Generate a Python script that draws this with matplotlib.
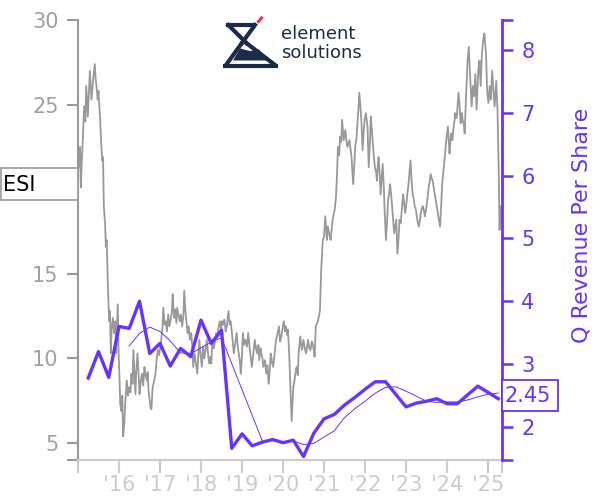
import matplotlib
matplotlib.use("Agg")
import matplotlib.pyplot as plt
from matplotlib.patches import Polygon, Rectangle

# ---------------- data ----------------
price_dates = [
    2015.00, 2015.03, 2015.05, 2015.07, 2015.09, 2015.11, 2015.15, 2015.18, 2015.20, 2015.24,
    2015.27, 2015.29, 2015.33, 2015.37, 2015.41, 2015.43, 2015.45, 2015.48, 2015.50, 2015.54,
    2015.56, 2015.59, 2015.61, 2015.63, 2015.66, 2015.68, 2015.70, 2015.73, 2015.76, 2015.78,
    2015.80, 2015.82, 2015.85, 2015.88, 2015.91, 2015.93, 2015.95, 2015.97, 2015.99, 2016.01,
    2016.03, 2016.06, 2016.08, 2016.10, 2016.13, 2016.15, 2016.17, 2016.19, 2016.22, 2016.25,
    2016.28, 2016.30, 2016.33, 2016.35, 2016.38, 2016.40, 2016.42, 2016.45, 2016.48, 2016.50,
    2016.53, 2016.56, 2016.59, 2016.62, 2016.65, 2016.68, 2016.70, 2016.72, 2016.75, 2016.77,
    2016.79, 2016.82, 2016.85, 2016.89, 2016.92, 2016.95, 2016.98, 2017.03, 2017.06, 2017.08,
    2017.11, 2017.14, 2017.17, 2017.20, 2017.23, 2017.26, 2017.29, 2017.31, 2017.34, 2017.37,
    2017.40, 2017.42, 2017.45, 2017.48, 2017.51, 2017.54, 2017.57, 2017.59, 2017.62, 2017.65,
    2017.67, 2017.70, 2017.73, 2017.76, 2017.79, 2017.81, 2017.84, 2017.87, 2017.91, 2017.93,
    2017.96, 2017.99, 2018.02, 2018.05, 2018.08, 2018.11, 2018.14, 2018.17, 2018.20, 2018.23,
    2018.25, 2018.28, 2018.31, 2018.34, 2018.37, 2018.40, 2018.43, 2018.46, 2018.49, 2018.51,
    2018.54, 2018.57, 2018.60, 2018.63, 2018.67, 2018.70, 2018.72, 2018.75, 2018.77, 2018.80,
    2018.84, 2018.87, 2018.90, 2018.92, 2018.95, 2018.97, 2019.00, 2019.02, 2019.05, 2019.08,
    2019.12, 2019.15, 2019.18, 2019.20, 2019.24, 2019.27, 2019.31, 2019.34, 2019.37, 2019.40,
    2019.42, 2019.45, 2019.47, 2019.50, 2019.52, 2019.56, 2019.59, 2019.62, 2019.65, 2019.68,
    2019.70, 2019.73, 2019.76, 2019.80, 2019.83, 2019.86, 2019.90, 2019.93, 2019.96, 2019.99,
    2020.02, 2020.05, 2020.07, 2020.10, 2020.12, 2020.15, 2020.17, 2020.19, 2020.21, 2020.23,
    2020.25, 2020.28, 2020.30, 2020.33, 2020.36, 2020.38, 2020.42, 2020.46, 2020.50, 2020.53,
    2020.56, 2020.59, 2020.61, 2020.64, 2020.67, 2020.70, 2020.72, 2020.75, 2020.77, 2020.80,
    2020.85, 2020.90, 2020.93, 2020.97, 2021.00, 2021.03, 2021.07, 2021.09, 2021.11, 2021.14,
    2021.16, 2021.19, 2021.21, 2021.26, 2021.29, 2021.31, 2021.34, 2021.37, 2021.39, 2021.42,
    2021.44, 2021.48, 2021.52, 2021.55, 2021.57, 2021.62, 2021.65, 2021.67, 2021.71, 2021.74,
    2021.76, 2021.79, 2021.81, 2021.84, 2021.86, 2021.89, 2021.91, 2021.94, 2021.97, 2021.99,
    2022.02, 2022.06, 2022.09, 2022.12, 2022.14, 2022.17, 2022.19, 2022.22, 2022.24, 2022.27,
    2022.29, 2022.31, 2022.33, 2022.36, 2022.38, 2022.41, 2022.43, 2022.46, 2022.48, 2022.51,
    2022.54, 2022.56, 2022.59, 2022.61, 2022.64, 2022.66, 2022.69, 2022.71, 2022.74, 2022.76,
    2022.79, 2022.82, 2022.84, 2022.87, 2022.89, 2022.91, 2022.93, 2022.96, 2022.98, 2023.01,
    2023.03, 2023.06, 2023.08, 2023.11, 2023.13, 2023.16, 2023.19, 2023.21, 2023.24, 2023.26,
    2023.29, 2023.31, 2023.34, 2023.36, 2023.39, 2023.41, 2023.44, 2023.46, 2023.48, 2023.50,
    2023.53, 2023.55, 2023.58, 2023.60, 2023.63, 2023.65, 2023.68, 2023.70, 2023.73, 2023.75,
    2023.78, 2023.80, 2023.83, 2023.86, 2023.88, 2023.92, 2023.95, 2023.98, 2024.02, 2024.06,
    2024.08, 2024.10, 2024.13, 2024.15, 2024.18, 2024.20, 2024.23, 2024.25, 2024.28, 2024.31,
    2024.33, 2024.36, 2024.38, 2024.41, 2024.43, 2024.46, 2024.50, 2024.53, 2024.56, 2024.60,
    2024.63, 2024.66, 2024.69, 2024.72, 2024.76, 2024.79, 2024.82, 2024.85, 2024.88, 2024.91,
    2024.95, 2024.98, 2025.01, 2025.04, 2025.07, 2025.10, 2025.13, 2025.16, 2025.20, 2025.23,
    2025.26, 2025.28, 2025.30, 2025.32,
]
price_values = [
    22.0, 21.3, 22.5, 20.1, 21.5, 22.5, 24.9, 24.0, 26.1, 24.3,
    26.0, 27.0, 25.3, 26.5, 27.4, 26.5, 26.1, 25.3, 25.8, 24.1,
    23.0, 21.7, 21.9, 19.0, 18.0, 16.6, 17.0, 14.2, 12.2, 12.8,
    10.3, 11.7, 12.4, 11.5, 12.2, 10.3, 11.8, 13.2, 10.3, 9.0,
    7.3, 6.9, 7.8, 5.4, 6.2, 7.3, 8.0, 8.7, 7.8, 8.3,
    8.0, 9.1, 8.5, 10.5, 9.0, 7.9, 9.2, 10.3, 9.0, 7.9,
    8.6, 9.1, 8.4, 9.5, 9.0, 8.7, 9.2, 8.1, 7.5, 7.1,
    7.0, 8.3, 8.6, 9.1, 10.0, 10.5, 10.2, 11.1, 11.8, 13.0,
    12.0, 12.2, 11.6, 12.6, 11.9, 12.3, 12.8, 13.8, 12.4, 12.9,
    12.1, 13.0, 12.6, 12.2, 12.6, 11.9, 12.5, 14.0, 12.8, 12.0,
    11.5, 11.9, 11.1, 11.5, 10.6, 9.5, 10.3, 9.8, 9.1, 10.0,
    11.1, 10.2, 9.5, 10.7, 10.0, 10.5, 11.1, 10.3, 9.7, 10.1,
    9.7, 11.1, 10.6, 11.0, 11.5, 11.3, 11.9, 12.2, 11.7, 12.2,
    12.0, 12.3, 11.6, 11.9, 12.8, 12.0, 12.2, 11.6, 11.1, 10.3,
    11.0, 11.5, 10.6, 10.3, 9.8, 9.1, 10.2, 11.5, 10.8, 11.1,
    10.7, 11.5, 10.8, 10.3, 9.5, 10.2, 11.1, 10.6, 10.3, 10.8,
    9.9, 10.6, 10.3, 10.0, 9.5, 9.9, 9.1, 9.6, 8.5, 9.4,
    10.3, 9.8, 9.5, 10.4, 11.1, 11.4, 11.9, 11.0, 11.3, 11.8,
    12.2, 11.6, 11.9, 11.4, 11.7, 10.3, 9.0, 7.7, 6.3, 7.3,
    8.3, 8.7, 9.1, 9.5, 9.0, 10.3, 11.3, 10.5, 11.1, 10.6,
    10.3, 10.8, 11.1, 10.6, 10.5, 11.0, 10.9, 10.5, 10.1, 11.9,
    12.2, 12.8, 15.2, 17.0, 17.2, 18.4, 17.0, 17.8, 17.6, 17.2,
    17.0, 17.7, 18.2, 18.8, 19.5, 20.5, 22.5, 22.0, 23.1, 22.8,
    24.1, 22.9, 23.5, 22.8, 22.5, 22.9, 22.3, 21.9, 20.3, 21.5,
    22.5, 23.0, 23.7, 24.8, 25.7, 24.8, 24.1, 22.3, 23.5, 24.1,
    24.5, 23.7, 21.3, 22.8, 24.3, 23.4, 22.7, 21.8, 21.3, 21.0,
    20.5, 21.4, 21.9, 20.8, 19.7, 20.8, 21.5, 20.0, 18.6, 17.0,
    18.2, 19.3, 19.8, 20.3, 19.6, 19.0, 18.0, 17.4, 17.9, 18.2,
    16.2, 17.2, 18.2, 18.0, 18.6, 19.2, 19.7, 19.0, 18.6, 19.2,
    19.7, 20.3, 20.9, 21.7, 20.7, 19.7, 19.4, 19.0, 18.8, 18.4,
    18.0, 17.8, 18.2, 18.6, 18.9, 19.0, 18.7, 18.4, 18.7, 19.0,
    19.6, 20.1, 20.5, 20.9, 20.6, 20.5, 20.0, 19.7, 19.3, 19.0,
    18.5, 18.2, 17.8, 19.2, 20.3, 21.3, 22.0, 22.9, 23.7, 22.1,
    22.8, 23.3, 22.9, 23.5, 24.0, 24.5, 24.2, 24.7, 25.7, 24.8,
    23.9, 24.5, 24.1, 23.8, 23.3, 25.3, 27.6, 28.4, 26.8, 24.9,
    26.1, 25.5, 26.8, 24.7, 27.0, 27.6, 26.1, 28.0, 28.8, 29.2,
    28.0, 25.7, 25.1, 26.1, 25.3, 27.0, 25.9, 24.9, 26.4, 24.7,
    21.1, 17.6, 19.0, 18.0,
]

rev_dates = [
    2015.25, 2015.50, 2015.75, 2016.00, 2016.25, 2016.50, 2016.75, 2017.00, 2017.25, 2017.50,
    2017.75, 2018.00, 2018.25, 2018.50, 2018.75, 2019.00, 2019.25, 2019.50, 2019.75, 2020.00,
    2020.25, 2020.50, 2020.75, 2021.00, 2021.25, 2021.50, 2021.75, 2022.00, 2022.25, 2022.50,
    2022.75, 2023.00, 2023.25, 2023.50, 2023.75, 2024.00, 2024.25, 2024.50, 2024.75, 2025.00,
    2025.25,
]
rev_values = [
    2.78, 3.20, 2.79, 3.60, 3.57, 4.00, 3.17, 3.33, 2.97, 3.25,
    3.12, 3.70, 3.33, 3.54, 1.66, 1.89, 1.70, 1.76, 1.80, 1.75,
    1.79, 1.53, 1.90, 2.13, 2.20, 2.35, 2.47, 2.60, 2.72, 2.72,
    2.52, 2.32, 2.38, 2.41, 2.45, 2.37, 2.37, 2.51, 2.65, 2.55,
    2.45,
]

avg_dates = [
    2016.25, 2016.50, 2016.75, 2017.00, 2017.25, 2017.50, 2017.75, 2018.00, 2018.25, 2018.50,
    2019.50, 2019.75, 2020.00, 2020.25, 2020.50, 2020.75, 2021.00, 2021.25, 2021.50, 2021.75,
    2022.00, 2022.25, 2022.50, 2022.75, 2023.00, 2023.25, 2023.50, 2023.75, 2024.00, 2024.25,
    2024.50, 2024.75, 2025.00, 2025.25,
]
avg_values = [
    3.29, 3.49, 3.59, 3.52, 3.37, 3.18, 3.17, 3.26, 3.35, 3.42,
    1.77, 1.79, 1.75, 1.78, 1.72, 1.74, 1.84, 1.94, 2.15, 2.29,
    2.41, 2.54, 2.63, 2.64, 2.57, 2.49, 2.41, 2.39, 2.40, 2.40,
    2.43, 2.48, 2.52, 2.54,
]

year_ticks = [2016, 2017, 2018, 2019, 2020, 2021, 2022, 2023, 2024, 2025]
year_labels = ["'16", "'17", "'18", "'19", "'20", "'21", "'22", "'23", "'24", "'25"]
left_ticks = [5, 10, 15, 20, 25, 30]
right_ticks = [2, 3, 4, 5, 6, 7, 8]
ticker = "ESI"
last_value_label = "2.45"
right_axis_label = "Q Revenue Per Share"

# ---------------- style ----------------
PURPLE = "#6633ff"
GRAY = "#999999"
LIGHT = "#cccccc"
NAVY = "#1c2b4a"
W, H = 600, 500
X0, X1 = 2015.0, 2025.34
YL0, YL1 = 4.0, 30.0
YR0, YR1 = 1.475, 8.477

fig = plt.figure(figsize=(6, 5), dpi=100)
ax = fig.add_axes([78 / W, 40 / H, 424 / W, 440 / H])
ax2 = ax.twinx()

ax.plot(price_dates, price_values, color=GRAY, lw=1.3, zorder=2)
ax2.plot(avg_dates, avg_values, color=PURPLE, lw=0.7, zorder=3)
ax2.plot(rev_dates, rev_values, color=PURPLE, lw=2.4, zorder=4)

ax.set_xlim(X0, X1)
ax.set_ylim(YL0, YL1)
ax2.set_ylim(YR0, YR1)

# x axis
ax.set_xticks([X0] + year_ticks + [X1])
ax.set_xticklabels([""] + year_labels + [""])
ax.tick_params(axis="x", colors=LIGHT, labelcolor=LIGHT, labelsize=15,
               length=9, width=1.5, pad=2)

# left axis
ax.set_yticks([YL0] + left_ticks)
ax.set_yticklabels([""] + [str(v) for v in left_ticks])
ax.tick_params(axis="y", colors=GRAY, labelcolor="#a0a0a0", labelsize=15,
               length=8, width=1.5, pad=6)

# right axis
ax2.set_yticks([YR0] + right_ticks + [YR1])
ax2.set_yticklabels([""] + [str(v) for v in right_ticks] + [""])
ax2.tick_params(axis="y", colors=PURPLE, labelcolor=PURPLE, labelsize=15,
                length=8, width=1.8, pad=6)
ax2.set_ylabel(right_axis_label, color=PURPLE, fontsize=16)
ax2.yaxis.set_label_coords((571 - 78) / 424, (460 - 225) / 440)

for s in ["top", "right"]:
    ax.spines[s].set_visible(False)
ax.spines["left"].set_color(GRAY)
ax.spines["left"].set_linewidth(1.5)
ax.spines["bottom"].set_color(LIGHT)
ax.spines["bottom"].set_linewidth(1.5)
for s in ["top", "left", "bottom"]:
    ax2.spines[s].set_visible(False)
ax2.spines["right"].set_color(PURPLE)
ax2.spines["right"].set_linewidth(2)

# boxed labels (pixel-sized boxes in figure coordinates)
fig.patches.append(Rectangle((0.5 / W, 1 - 200 / H), 77 / W, 32 / H,
                             transform=fig.transFigure, facecolor="white",
                             edgecolor=GRAY, lw=1.2, zorder=10))
fig.text(3 / W, 1 - 185 / H, ticker, ha="left", va="center", fontsize=15,
         color="black", zorder=11)
fig.patches.append(Rectangle((502 / W, 1 - 411 / H), 56 / W, 31 / H,
                             transform=fig.transFigure, facecolor="white",
                             edgecolor=PURPLE, lw=1.3, zorder=10))
fig.text(504 / W, 1 - 396 / H, last_value_label, ha="left", va="center",
         fontsize=15, color=PURPLE, zorder=11)

# logo
lax = fig.add_axes([200 / W, 1 - 80 / H, 200 / W, 70 / H])
lax.set_xlim(200, 400)
lax.set_ylim(80, 10)
lax.axis("off")
lw = 3.0
lax.plot([226, 255.5], [25, 25], color=NAVY, lw=lw, solid_capstyle="butt")
lax.plot([228.3, 246.7], [25, 43.3], color=NAVY, lw=lw)
lax.plot([255, 241.7], [25, 43.3], color=NAVY, lw=lw)
lax.plot([241.7, 226], [43.3, 65], color=NAVY, lw=lw)
lax.plot([246.7, 275], [43.3, 65], color=NAVY, lw=lw)
lax.plot([223, 278], [65.5, 65.5], color=NAVY, lw=lw, solid_capstyle="butt")
lax.add_patch(Polygon([(233, 60.5), (268, 60.5), (259, 49.5), (250, 51), (240, 48.5)],
                      closed=True, facecolor=NAVY, edgecolor="none"))
lax.plot([258.5, 261.5], [21.5, 18.0], color="#e8334a", lw=2.2)
lax.text(281, 34.0, "element", fontsize=13, color=NAVY, va="center", ha="left")
lax.text(281, 52.5, "solutions", fontsize=13, color=NAVY, va="center", ha="left")

fig.savefig("out.png", dpi=100)
